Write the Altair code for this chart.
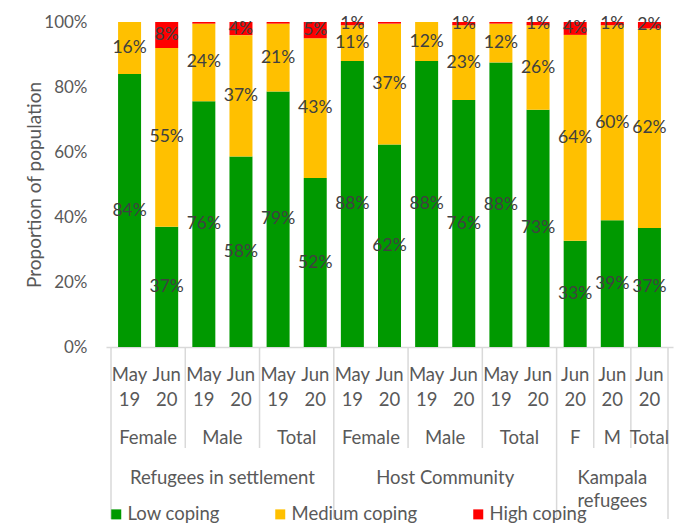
import altair as alt
import pandas as pd

groups = ["Refugees in settlement"] * 6 + ["Host Community"] * 6 + ["Kampala refugees"] * 3
subgroups = ["Female", "Female", "Male", "Male", "Total", "Total",
             "Female", "Female", "Male", "Male", "Total", "Total",
             "F", "M", "Total"]
periods = ["May 19", "Jun 20", "May 19", "Jun 20", "May 19", "Jun 20",
           "May 19", "Jun 20", "May 19", "Jun 20", "May 19", "Jun 20",
           "Jun 20", "Jun 20", "Jun 20"]
levels = ["Low coping", "Medium coping", "High coping"]
low = [84, 37, 76, 58, 79, 52, 88, 62, 88, 76, 88, 73, 33, 39, 37]
medium = [16, 55, 24, 37, 21, 43, 11, 37, 12, 23, 12, 26, 64, 60, 62]
high = [0, 8, 0.5, 4, 0.5, 5, 1, 0.5, 0, 1, 0.5, 1, 4, 1, 2]
colors = ["#009900", "#FFC000", "#FF0000"]

FONT = "Lato"
FS = 17      # numbers
FT = 18.5    # words
W, H = 567, 325
n = len(groups)

rows = []
for i in range(n):
    for k, vals in enumerate([low, medium, high]):
        rows.append(dict(idx=i, pos=i + 0.5, level=levels[k], order=k, value=vals[i]))
df = pd.DataFrame(rows)

cat = pd.DataFrame(dict(pos=[i + 0.5 for i in range(n)],
                        l1=[p.split(" ")[0] for p in periods],
                        l2=[p.split(" ")[1] for p in periods]))
sub_rows, grp_rows, short_b, long_b = [], [], [], []
start = 0
for i in range(1, n + 1):
    if i == n or groups[i] != groups[i - 1] or subgroups[i] != subgroups[i - 1]:
        sub_rows.append(dict(cx=(start + i) / 2, lab=subgroups[start]))
        start = i
start = 0
for i in range(1, n + 1):
    if i == n or groups[i] != groups[i - 1]:
        words = groups[start].split(" ")
        if i - start < 4:
            grp_rows.append(dict(cx=(start + i) / 2, t1=words[0], t2=" ".join(words[1:])))
        else:
            grp_rows.append(dict(cx=(start + i) / 2, t1=groups[start], t2=""))
        start = i
for i in range(0, n + 1):
    if i == 0 or i == n or groups[i] != groups[i - 1]:
        long_b.append(i)
    elif subgroups[i] != subgroups[i - 1]:
        short_b.append(i)
sub_df = pd.DataFrame(sub_rows)
grp_df = pd.DataFrame(grp_rows)
short_df = pd.DataFrame(dict(b=short_b))
long_df = pd.DataFrame(dict(b=long_b))

xscale = alt.Scale(domain=[0, n], nice=False, zero=False)
xenc = alt.X("pos:Q", scale=xscale,
             axis=alt.Axis(labels=False, ticks=False, grid=False, title=None,
                           domain=True, domainColor="#d9d9d9", domainWidth=1.5))

base = alt.Chart(df).transform_stack(
    stack="value", groupby=["idx"], as_=["v0", "v1"], offset="normalize",
    sort=[alt.SortField("order")]
).transform_calculate(mid="(datum.v0 + datum.v1) / 2",
                      label="format(datum.value, 'd') + '%'")

bars = base.mark_bar(size=23).encode(
    x=xenc,
    y=alt.Y("v0:Q", scale=alt.Scale(domain=[0, 1], nice=False),
            axis=alt.Axis(format="%", values=[0, 0.2, 0.4, 0.6, 0.8, 1.0],
                          title="Proportion of population", grid=False, domain=False,
                          ticks=False, labelPadding=19, titlePadding=-1,
                          labelFont=FONT, labelFontSize=FS, labelColor="#595959",
                          titleFont=FONT, titleFontSize=19, titleColor="#595959",
                          titleFontWeight="normal")),
    y2="v1:Q",
    color=alt.Color("level:N", scale=alt.Scale(domain=levels, range=colors),
                    legend=alt.Legend(orient="none", direction="horizontal", title=None,
                                      legendX=1, legendY=483, symbolType="square",
                                      symbolSize=100, symbolStrokeWidth=0,
                                      labelFont=FONT, labelFontSize=FT,
                                      labelColor="#595959", labelOffset=2,
                                      columnPadding=51)),
    order=alt.Order("order:Q"),
)

labels = base.transform_filter("datum.value >= 1").mark_text(
    font=FONT, fontSize=17.5, color="#404040", baseline="middle", align="center"
).encode(x=xenc, y=alt.Y("mid:Q"), text="label:N")

short_rules = alt.Chart(short_df).mark_rule(color="#d9d9d9", strokeWidth=1.5).encode(
    x=alt.X("b:Q", scale=xscale), y=alt.value(H), y2=alt.value(426))
long_rules = alt.Chart(long_df).mark_rule(color="#d9d9d9", strokeWidth=1.5).encode(
    x=alt.X("b:Q", scale=xscale), y=alt.value(H), y2=alt.value(497))

tick_style = dict(font=FONT, fontSize=FT, color="#595959", baseline="middle", align="center")
per1 = alt.Chart(cat).mark_text(**tick_style).encode(x=alt.X("pos:Q", scale=xscale), y=alt.value(353), text="l1:N")
per2 = alt.Chart(cat).mark_text(**tick_style).encode(x=alt.X("pos:Q", scale=xscale), y=alt.value(378), text="l2:N")
sub = alt.Chart(sub_df).mark_text(**tick_style).encode(
    x=alt.X("cx:Q", scale=xscale), y=alt.value(416), text="lab:N")
grp1 = alt.Chart(grp_df).mark_text(**tick_style).encode(
    x=alt.X("cx:Q", scale=xscale), y=alt.value(456), text="t1:N")
grp2 = alt.Chart(grp_df).mark_text(**tick_style).encode(
    x=alt.X("cx:Q", scale=xscale), y=alt.value(479), text="t2:N")

chart = alt.layer(
    bars, labels, short_rules, long_rules, per1, per2, sub, grp1, grp2
).properties(
    width=W, height=H,
    padding={"left": 106, "top": 22, "right": 2, "bottom": 176},
    autosize=alt.AutoSizeParams(type="none"),
).configure_view(stroke=None)

chart.save("out.html", embed_options={"renderer": "svg", "actions": False})
